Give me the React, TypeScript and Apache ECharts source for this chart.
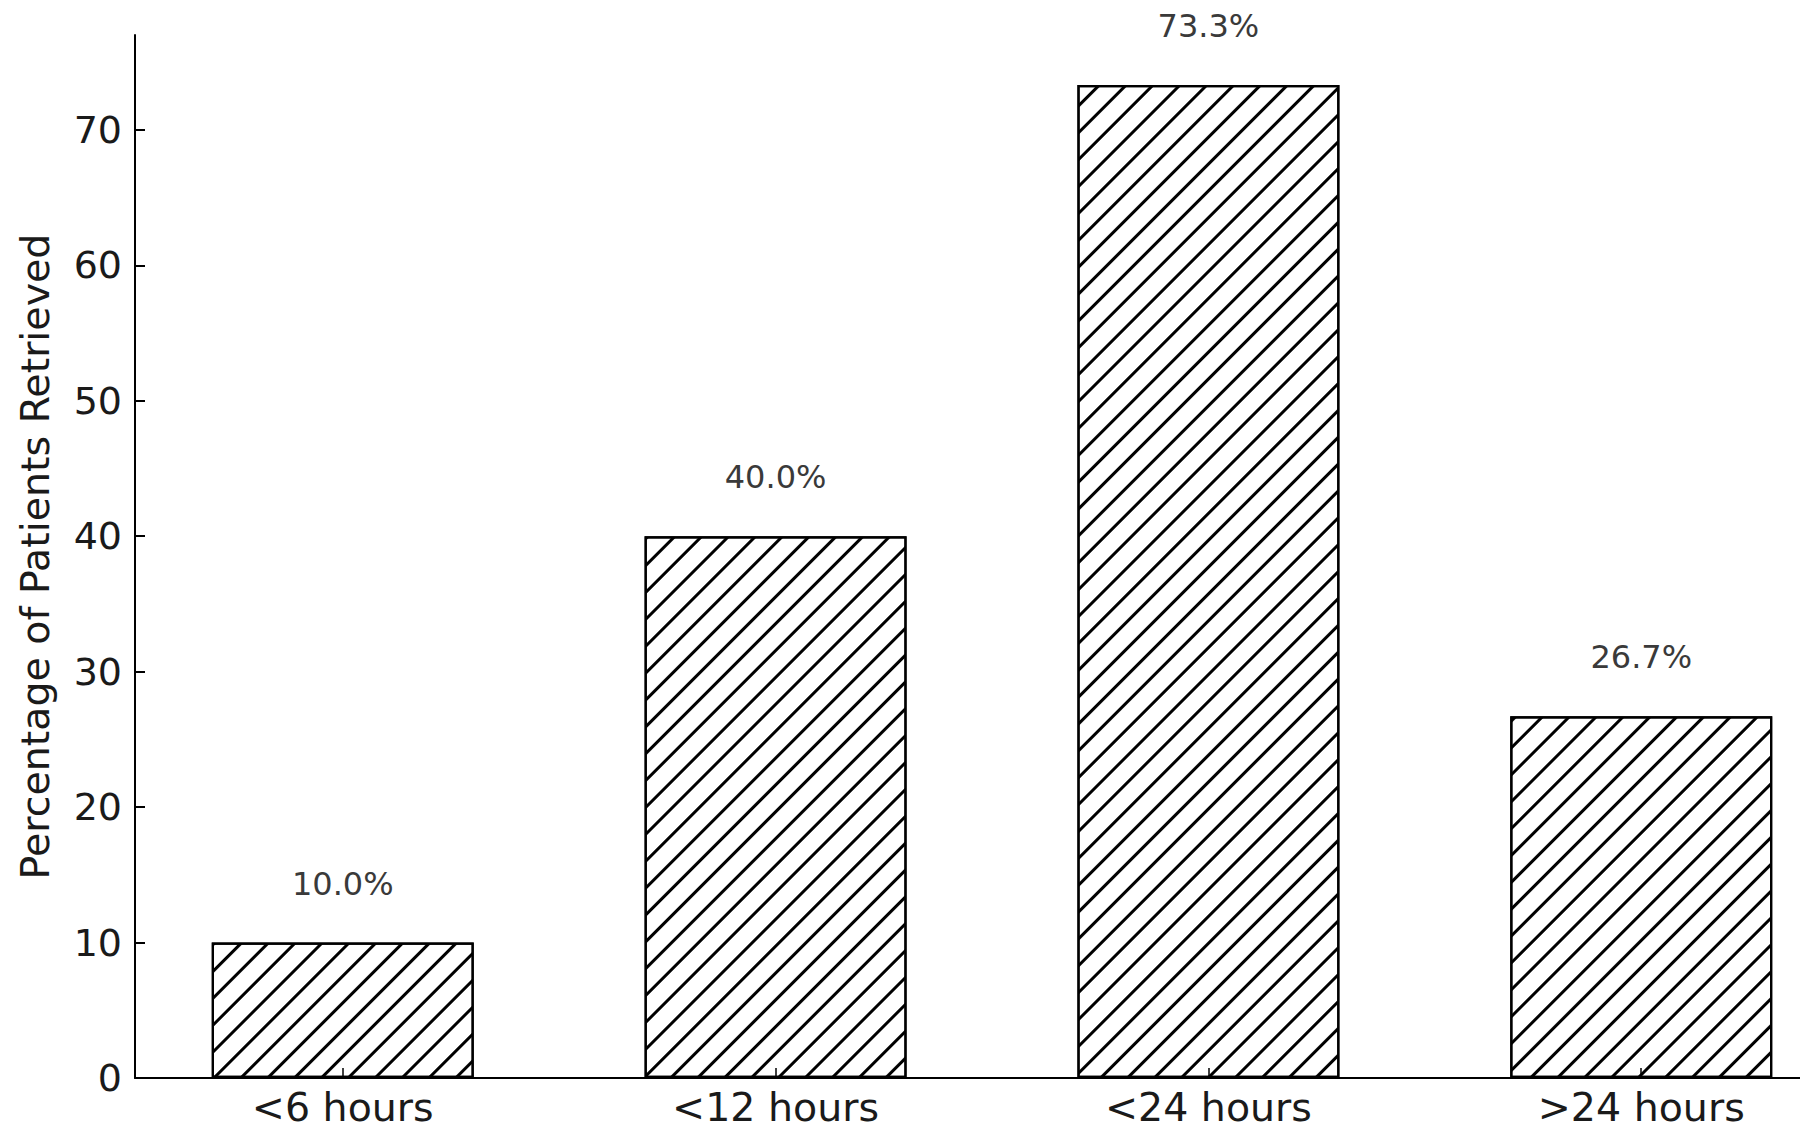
import React, { useEffect, useRef } from "react";
import * as echarts from "echarts";

const categories: string[] = ["<6 hours", "<12 hours", "<24 hours", ">24 hours"];
const values: number[] = [10.0, 40.0, 73.3, 26.7];
const yTicks: number[] = [0, 10, 20, 30, 40, 50, 60, 70];
const yTitle = "Percentage of Patients Retrieved";

const FONT = "DejaVu Sans";

export default function App() {
  const ref = useRef<HTMLDivElement>(null);
  useEffect(() => {
    if (!ref.current) return;
    const chart = echarts.init(ref.current, null, { renderer: "svg" });
    const positions = categories.map((_, i) => i);
    chart.setOption({
      animation: false,
      backgroundColor: "#ffffff",
      grid: {
        left: 135,
        right: -49,
        top: 35,
        bottom: 55,
        containLabel: false,
        outerBoundsMode: "none",
      },
      xAxis: {
        type: "value",
        min: -0.48,
        max: 3.48,
        z: 10,
        splitLine: { show: false },
        axisLine: { show: true, onZero: false, lineStyle: { color: "#000", width: 2 } },
        axisTick: {
          show: true,
          inside: true,
          length: 10,
          customValues: positions,
          lineStyle: { color: "#000", width: 1.5 },
        },
        axisLabel: {
          customValues: positions,
          formatter: (v: number) => categories[Math.round(v)] ?? "",
          fontFamily: FONT,
          fontSize: 39.5,
          color: "#1a1a1a",
          margin: 9,
        },
      },
      yAxis: {
        type: "value",
        min: 0,
        max: 77,
        interval: 10,
        name: yTitle,
        nameLocation: "middle",
        nameGap: 80,
        nameRotate: 90,
        nameTextStyle: { fontFamily: FONT, fontSize: 39.5, color: "#1a1a1a" },
        splitLine: { show: false },
        axisLine: { show: true, onZero: false, lineStyle: { color: "#000", width: 2 } },
        axisTick: { show: true, inside: true, length: 10, lineStyle: { color: "#000", width: 2 } },
        axisLabel: {
          fontFamily: FONT,
          fontSize: 38,
          color: "#1a1a1a",
          margin: 13,
          showMaxLabel: false,
          formatter: (v: number) => (yTicks.includes(v) ? String(v) : ""),
        },
      },
      series: [
        {
          type: "bar",
          data: values.map((v, i) => [positions[i], v]),
          barWidth: 262,
          itemStyle: {
            color: "#ffffff",
            borderColor: "#000000",
            borderWidth: 2.2,
            decal: {
              symbol: "rect",
              symbolSize: 1,
              dashArrayX: [1, 0],
              dashArrayY: [3, 16],
              rotation: -Math.PI / 4,
              color: "#000000",
            },
          },
          label: {
            show: true,
            position: "top",
            distance: 43,
            fontFamily: FONT,
            fontSize: 32,
            color: "#3a3a3a",
            formatter: (p: any) => `${Number(p.value[1]).toFixed(1)}%`,
          },
        },
      ],
    });
    return () => chart.dispose();
  }, []);
  return (
    <div
      ref={ref}
      style={{ position: "fixed", left: 0, top: 0, width: 1800, height: 1133 }}
    />
  );
}
